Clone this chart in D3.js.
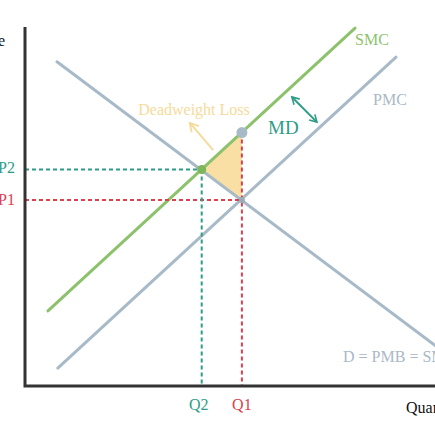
<!DOCTYPE html>
<html>
<head>
<meta charset="utf-8">
<script src="https://cdn.jsdelivr.net/npm/d3@7"></script>
<style>
  html, body { margin: 0; padding: 0; background: #fff; }
  svg { display: block; }
  text { font-family: "Liberation Serif", "Times New Roman", serif; }
</style>
</head>
<body>
<div id="chart"></div>
<script>
// curve end points, in quantity / price units
const curveNames = ["D", "PMC", "SMC"];
const curveQ = [[0.78, 10.5], [0.80, 9.05], [0.56, 8.05]];
const curveP = [[9.03, 0.70], [0.50, 9.16], [2.09, 9.97]];

// equilibrium values
const qLabels = ["Q1", "Q2"];
const qValues = [5.29, 4.31];
const pLabels = ["P1", "P2"];
const pValues = [5.18, 6.03];
const pSocialAtQ1 = 7.06;

const width = 435, height = 435;
const originX = 25, originY = 386, axisTop = 27;

const x = d3.scaleLinear().domain([0, 10]).range([originX, 435]);
const y = d3.scaleLinear().domain([0, 10]).range([originY, axisTop]);

const colors = {
    axis: "#333333",
    gray: "#A8BAC8",
    green: "#8DC26C",
    teal: "#2E9C86",
    red: "#D9414E",
    fill: "#F9DFA3",
    dwl: "#F5DB9C",
    grayText: "#A9B9C6"
};
const curveColor = {D: colors.gray, PMC: colors.gray, SMC: colors.green};

const svg = d3.select("#chart").append("svg")
        .attr("width", width)
        .attr("height", height);

const defs = svg.append("defs");
function makeMarker(id, color, size) {
    defs.append("marker")
            .attr("id", id)
            .attr("viewBox", "0 0 10 10")
            .attr("refX", 8)
            .attr("refY", 5)
            .attr("markerWidth", size)
            .attr("markerHeight", size)
            .attr("orient", "auto-start-reverse")
            .append("path")
            .attr("d", "M1,1 L8,5 L1,9")
            .attr("fill", "none")
            .attr("stroke", color)
            .attr("stroke-width", 1.6);
}
makeMarker("tealHead", colors.teal, 5);
makeMarker("dwlHead", colors.dwl, 6);

// deadweight loss triangle
const tri = [[qValues[1], pValues[1]], [qValues[0], pSocialAtQ1], [qValues[0], pValues[0]]];
svg.append("path")
        .attr("d", d3.line().x(d => x(d[0])).y(d => y(d[1]))(tri) + "Z")
        .attr("fill", colors.fill);

// curves
const curves = curveNames.map((n, i) => ({name: n, q: curveQ[i], p: curveP[i]}));
svg.selectAll("line.curve")
        .data(curves)
        .enter().append("line")
        .attr("class", "curve")
        .attr("x1", d => x(d.q[0]))
        .attr("y1", d => y(d.p[0]))
        .attr("x2", d => x(d.q[1]))
        .attr("y2", d => y(d.p[1]))
        .attr("stroke", d => curveColor[d.name])
        .attr("stroke-width", 3)
        .attr("stroke-linecap", "round");

// dashed guides
function dashed(x1, y1, x2, y2, color) {
    svg.append("line")
            .attr("x1", x1).attr("y1", y1)
            .attr("x2", x2).attr("y2", y2)
            .attr("stroke", color)
            .attr("stroke-width", 2)
            .attr("stroke-dasharray", "4,3");
}
dashed(x(0), y(pValues[0]), x(qValues[0]), y(pValues[0]), colors.red);
dashed(x(qValues[0]), y(pSocialAtQ1), x(qValues[0]), y(0), colors.red);
dashed(x(0), y(pValues[1]), x(qValues[1]), y(pValues[1]), colors.teal);
dashed(x(qValues[1]), y(pValues[1]), x(qValues[1]), y(0), colors.teal);

// points
svg.append("circle")
        .attr("cx", x(qValues[1])).attr("cy", y(pValues[1]))
        .attr("r", 4.5).attr("fill", "#7DB65C");
svg.append("circle")
        .attr("cx", x(qValues[0])).attr("cy", y(pSocialAtQ1))
        .attr("r", 5.5).attr("fill", colors.gray);
svg.append("circle")
        .attr("cx", x(qValues[0])).attr("cy", y(pValues[0]))
        .attr("r", 3).attr("fill", "#9AAAB8");

// axes
svg.append("path")
        .attr("d", "M" + originX + "," + axisTop + "V" + originY + "H" + width)
        .attr("fill", "none")
        .attr("stroke", colors.axis)
        .attr("stroke-width", 3);

// arrows
svg.append("line")
        .attr("x1", x(6.51)).attr("y1", y(8.05))
        .attr("x2", x(7.12)).attr("y2", y(7.35))
        .attr("stroke", colors.teal)
        .attr("stroke-width", 2)
        .attr("marker-start", "url(#tealHead)")
        .attr("marker-end", "url(#tealHead)");
svg.append("line")
        .attr("x1", x(4.59)).attr("y1", y(6.57))
        .attr("x2", x(4.02)).attr("y2", y(7.33))
        .attr("stroke", colors.dwl)
        .attr("stroke-width", 2)
        .attr("marker-end", "url(#dwlHead)");

// labels
function label(txt, px, py, color, anchor, size) {
    svg.append("text")
            .attr("x", px).attr("y", py)
            .attr("fill", color)
            .attr("text-anchor", anchor || "start")
            .attr("font-size", size || 16)
            .text(txt);
}
label("Price", 5, 46, "#111", "end");
label("Quantity", 406, 413, "#111");
label(pLabels[1], 15, 173, colors.teal, "end");
label(pLabels[0], 15, 205, colors.red, "end");
label(qLabels[1], x(qValues[1]) - 3, 410, colors.teal, "middle");
label(qLabels[0], x(qValues[0]), 410, colors.red, "middle");
label("SMC", 355, 45, colors.green);
label("PMC", 373, 105, colors.grayText);
label("MD", 268, 134, colors.teal, "start", 19);
label("Deadweight Loss", 194, 115, colors.dwl, "middle");
label("D = PMB = SMB", 343, 362, colors.grayText);
</script>
</body>
</html>
